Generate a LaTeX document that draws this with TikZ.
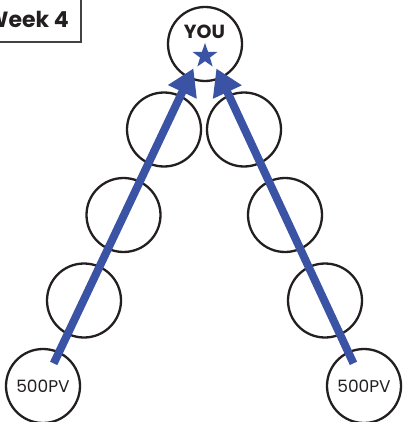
\documentclass[tikz,border=0pt]{standalone}
\usepackage{fontspec}
\setmainfont{Poppins}
\usetikzlibrary{shapes.geometric,arrows.meta}
\definecolor{pblue}{HTML}{3A53A4}
\definecolor{ink}{HTML}{231F20}
\tikzset{
  ring/.style={circle,draw=ink,line width=2.3pt,minimum size=74pt,inner sep=0pt,text=ink,font=\fontsize{17}{19}\selectfont},
  uparrow/.style={draw=pblue,line width=8pt,-{Triangle[length=26pt,width=30pt]},shorten <=25pt,shorten >=27pt},
  bluestar/.style={star,star points=5,star point ratio=2.5,fill=pblue,draw=none,minimum size=26pt,inner sep=0pt},
}
\begin{document}
\begin{tikzpicture}[x=1pt,y=-1pt]
\useasboundingbox (0,0) rectangle (402,422);
\fill[white] (0,0) rectangle (402,422);
% week box
\draw[draw=ink!85,line width=1.1pt] (-20,-10) rectangle (81,42);
\node (week) [anchor=base east,inner sep=0pt,text=ink,font=\fontsize{22}{24}\selectfont\bfseries] at (69,27.5) {Week 4};
% circles
\node (you) [ring] at (205,44) {};
\node (youtxt) [inner sep=0pt,text=ink,font=\fontsize{19}{21}\selectfont\bfseries] at (204.5,32) {YOU};
\node (star) [bluestar] at (205,56) {};
\node (l1) [ring] at (164,129.5) {};
\node (l2) [ring] at (123.5,215) {};
\node (l3) [ring] at (84,300.5) {};
\node (l4) [ring] at (43,386) {500PV};
\node (r1) [ring] at (244,129.5) {};
\node (r2) [ring] at (285,215) {};
\node (r3) [ring] at (325,300.5) {};
\node (r4) [ring] at (364,386) {500PV};
% arrows
\draw[uparrow] (l4.center) -- (you.center);
\draw[uparrow] (r4.center) -- (you.center);
\end{tikzpicture}
\end{document}
